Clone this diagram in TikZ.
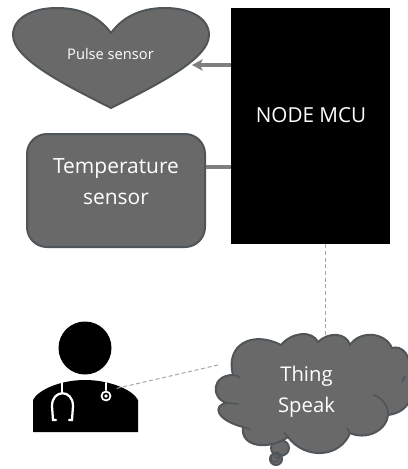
\documentclass[tikz,border=0pt]{standalone}
\usepackage{fontspec}
\setmainfont{Open Sans}
\definecolor{fillgrey}{HTML}{696969}
\definecolor{edgegrey}{HTML}{4F5558}
\definecolor{linkgrey}{HTML}{7F7F7F}
\definecolor{dashgrey}{HTML}{A6A6A6}
\usetikzlibrary{arrows.meta}
\tikzset{
  shapefill/.style={fill=fillgrey,draw=edgegrey,line width=1.5pt},
  textlabel/.style={text=white,align=center,inner sep=0pt},
  link/.style={draw=linkgrey,line width=2.6pt},
  dashlink/.style={draw=dashgrey,line width=0.75pt,dash pattern=on 3pt off 2pt},
  crease/.style={draw=edgegrey,line width=1.2pt},
  steth/.style={draw=white,line width=1.7pt,line cap=round}
}
\begin{document}
\begin{tikzpicture}[x=0.75pt,y=-0.75pt]
\useasboundingbox (0,0) rectangle (408,469);
\fill[white] (0,0) rectangle (408,469);
% heart
\path[shapefill] (111,33) .. controls (97,14) and (77,8) .. (57,8)
  .. controls (32,8) and (13,18) .. (13,35)
  .. controls (13,60) and (70,87) .. (111,108)
  .. controls (152,87) and (209,60) .. (209,35)
  .. controls (209,18) and (190,8) .. (165,8)
  .. controls (145,8) and (125,14) .. (111,33) -- cycle;
\node[textlabel,font=\fontsize{11}{13}\selectfont] (pulse) at (110.5,54) {Pulse sensor};
\coordinate (heartedge) at (192,65);
% temperature
\node[shapefill,rounded corners=15pt,minimum width=133.5pt,minimum height=84.75pt,inner sep=0pt] (temp) at (116,190.5) {};
\node[textlabel,font=\fontsize{15.7}{23}\selectfont] (templabel) at (116,181.5) {Temperature\\[0pt]sensor};
% mcu
\node[fill=black,minimum width=119.25pt,minimum height=177pt,inner sep=0pt] (mcu) at (310.5,126) {};
\node[textlabel,font=\fontsize{15.5}{18}\selectfont] (mculabel) at (311,115) {NODE MCU};
\coordinate (mcupulse) at (231,65);
\coordinate (mcutemp) at (231,167);
\draw[link,-{Stealth[length=8pt,width=8.5pt,inset=2pt]}] (mcupulse) -- (heartedge);
\draw[link] (mcutemp) -- (temp.east |- mcutemp);
% tail behind the cloud
\path[shapefill] (280,448) circle[x radius=9,y radius=8];
% cloud
\path[shapefill] (233,375)
  .. controls (225,345) and (252,330) .. (281,345)
  .. controls (292,332) and (312,330) .. (318,342)
  .. controls (328,332) and (346,332) .. (350,345)
  .. controls (360,330) and (385,332) .. (392,348)
  .. controls (402,345) and (412,355) .. (410,375)
  .. controls (415,395) and (410,412) .. (388,415)
  .. controls (386,432) and (365,440) .. (350,433)
  .. controls (340,458) and (305,460) .. (288,437)
  .. controls (270,450) and (240,448) .. (243,427)
  .. controls (216,420) and (212,405) .. (227,403)
  .. controls (210,398) and (212,375) .. (233,375) -- cycle;
\draw[crease] (233,375) .. controls (236,375) and (238,376) .. (240,378);
\draw[crease] (227,403) -- (238,404);
\draw[crease] (243,427) -- (250,429);
\draw[crease] (288,437) -- (284,432);
\draw[crease] (350,433) -- (347,428);
\draw[crease] (388,415) .. controls (389,405) and (380,396) .. (373,395);
\draw[crease] (405,376) -- (402,382);
\path[shapefill] (276,459) circle[radius=6];
\draw[crease,line width=0.8pt] (275,458) circle[radius=4];
\draw[crease,line width=0.8pt] (277,455) circle[radius=3];
\node[textlabel,font=\fontsize{15.2}{23}\selectfont] (cloud) at (306.5,392) {Thing\\[0pt]Speak};
\coordinate (cloudtop) at (325,335);
\coordinate (cloudleft) at (218,365);
% doctor
\fill[black] (85,348) circle[radius=26.5];
\fill[black] (33,432) -- (33,400) .. controls (38,390) and (60,380) .. (85,380)
  .. controls (110,380) and (133,390) .. (138,400) -- (138,432) -- cycle;
\draw[steth] (62,383) -- (62,393);
\draw[steth] (56,420) -- (53,420) -- (52,406) .. controls (52,389) and (73,389) .. (73,406) -- (72,420) -- (69,420);
\draw[steth] (106,383) -- (106,390);
\draw[steth,line width=1.3pt] (106,396) circle[radius=4.5];
\fill[white] (106,396) circle[radius=1.8];
\coordinate (doctoredge) at (114,389);
\draw[dashlink] (mcu.south -| cloudtop) -- (cloudtop);
\draw[dashlink] (cloudleft) -- (doctoredge);
\end{tikzpicture}
\end{document}
